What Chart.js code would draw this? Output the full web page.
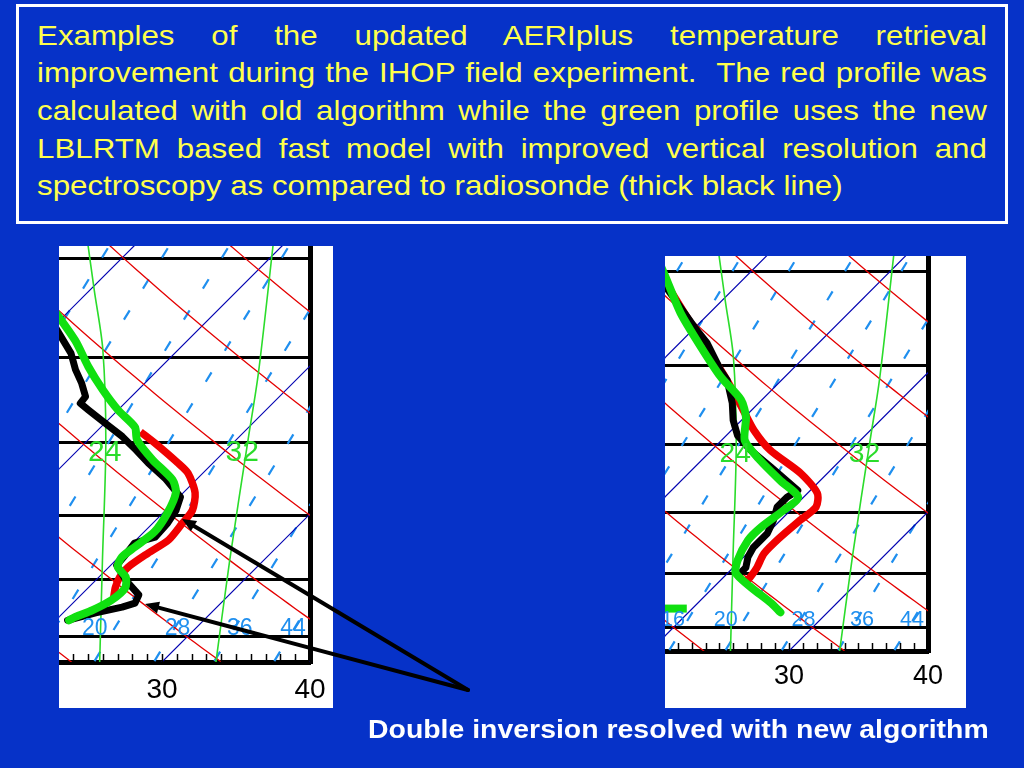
<!DOCTYPE html>
<html>
<head>
<meta charset="utf-8">
<script src="https://cdn.jsdelivr.net/npm/chart.js@4.4.1/dist/chart.umd.min.js"></script>
<style>
html,body{margin:0;padding:0;}
body{width:1024px;height:768px;background:#0632c8;position:relative;overflow:hidden;font-family:"Liberation Sans",Arial,sans-serif;}
#box{position:absolute;left:16px;top:4px;width:986px;height:214px;border:3px solid #fff;}
#caption{position:absolute;left:37px;top:16.5px;width:950px;}
#caption .inner{width:849.7px;transform:scaleX(1.118);transform-origin:0 0;color:#ffff4c;font-size:28px;line-height:37.7px;}
#caption .l{text-align:justify;text-align-last:justify;}
#caption .last{text-align:left;}
.panel{position:absolute;background:#fff;}
canvas{position:absolute;}
#note{position:absolute;left:368px;top:714px;color:#fff;font-weight:bold;font-size:25px;line-height:30px;white-space:nowrap;transform:scaleX(1.137);transform-origin:0 0;}
#arrows{position:absolute;left:0;top:0;}
</style>
</head>
<body>
<div id="box"></div>
<div id="caption"><div class="inner">
<div class="l">Examples of the updated AERIplus temperature retrieval</div>
<div class="l">improvement during the IHOP field experiment.&nbsp; The red profile was</div>
<div class="l">calculated with old algorithm while the green profile uses the new</div>
<div class="l">LBLRTM based fast model with improved vertical resolution and</div>
<div class="last">spectroscopy as compared to radiosonde (thick black line)</div>
</div></div>

<div class="panel" style="left:59px;top:246px;width:274px;height:462px;"></div>
<div class="panel" style="left:665px;top:256px;width:301px;height:452px;"></div>
<canvas id="leftChart" width="274" height="462" style="left:59px;top:246px;width:274px;height:462px;"></canvas>
<canvas id="rightChart" width="301" height="452" style="left:665px;top:256px;width:301px;height:452px;"></canvas>

<svg id="arrows" width="1024" height="768">
  <g stroke="#000" stroke-width="4" fill="#000" stroke-linecap="round">
    <line x1="468" y1="690" x2="194" y2="526"/>
    <line x1="468" y1="690" x2="158.5" y2="607.6"/>
  </g>
  <g fill="#000">
    <polygon points="182,519 197.1,521.05 190.9,531.35"/>
    <polygon points="145,604 160,601.8 157,613.4"/>
  </g>
</svg>

<div id="note">Double inversion resolved with new algorithm</div>

<script>
// ---- skew-T diagram geometry ----
const K = 36.9;        // skew factor (°C per ln-pressure unit, gives 45° isotherms)
const P_BASE = 1047;   // pressure at the bottom edge of both panels (hPa)

// ---- diagram reference lines ----
const isobarsHPa = [1000, 900, 800, 700, 600, 500];
const isothermsC = [-10, 0, 10, 20, 30, 40];
const dryAdiabatsC = [20, 30, 40, 50, 60, 70, 80, 90, 100];
const moist24T = [-3.6, 0.3, 4.9, 11.4, 19.1, 26.3];
const moist24P = [483, 530, 591, 701, 869, 1062];
const moist32T = [9.0, 17.0, 20.8, 27.7, 34.1];
const moist32P = [483, 617, 697, 869, 1062];
const mixLineBaseC = [1.1, 5.2, 9.2, 13.25, 17.3, 21.35, 25.4, 29.45, 33.5, 37.55];
const mixLineTilt = 0.613;
const xTickLabels = [30, 40];
const greenLabelText = ['24', '32'];
const greenLabelT = [12.0, 21.3];
const greenLabelP = [714, 714];
const blueLabelText = ['16', '20', '28', '36', '44'];
const blueLabelT = [19.4, 23.2, 28.8, 33.0, 36.6];
const blueLabelP = [985, 985, 985, 985, 985];

// ---- left case: profiles (temperature °C, pressure hPa) ----
const leftSondeT = [-0.9, 3.0, 4.4, 5.7, 6.9, 7.0, 8.0, 10.0, 12.1, 13.9, 15.6, 17.8, 20.1, 20.7, 21.0, 21.1, 20.1, 20.3, 20.4, 22.0, 23.9, 24.2, 23.6, 22.2, 20.8];
const leftSondeP = [557, 595, 613, 628, 644, 652, 660, 676, 693, 710, 727, 748, 774, 793, 812, 833, 842, 861, 877, 901, 926, 940, 947, 957, 970];
const leftNewT = [-2.2, 2.4, 5.1, 7.6, 10.0, 12.3, 13.3, 15.7, 18.4, 19.5, 20.3, 20.7, 20.4, 20.2, 20.6, 21.8, 22.5, 22.4, 21.8, 21.1, 20.9];
const leftNewP = [540, 581, 610, 636, 660, 681, 697, 723, 750, 768, 797, 825, 848, 864, 880, 896, 914, 935, 952, 964, 970];
const leftOldT = [13.0, 14.7, 17.6, 19.0, 20.8, 21.8, 22.0, 22.2, 21.7, 21.3, 21.4, 21.8, 22.4];
const leftOldP = [687, 701, 727, 741, 768, 793, 812, 837, 858, 880, 896, 913, 931];

// ---- right case ----
const rightSondeT = [-6.3, -0.1, 2.0, 4.9, 6.1, 8.1, 9.4, 10.8, 12.8, 15.5, 19.1, 18.8, 18.8, 19.5, 20.0, 20.0, 20.3, 20.9, 20.9];
const rightSondeP = [505, 557, 575, 606, 618, 646, 668, 688, 708, 732, 766, 776, 791, 812, 833, 856, 872, 890, 898];
const rightNewT = [-7.5, -5.8, -2.1, 1.8, 5.4, 8.5, 10.1, 11.7, 14.2, 17.1, 19.6, 19.5, 19.1, 19.1, 19.8, 20.6, 22.7, 25.3, 26.6];
const rightNewP = [489, 505, 542, 579, 614, 642, 664, 695, 722, 751, 776, 796, 823, 844, 878, 900, 925, 954, 971];
const rightOldT = [-5.7, 1.3, 5.8, 9.4, 11.6, 14.2, 18.1, 20.7, 21.6, 21.4, 21.2, 21.2, 21.7, 21.9, 21.9];
const rightOldP = [508, 571, 615, 655, 681, 708, 741, 770, 791, 812, 839, 866, 890, 907, 916];
const rightNewSfcT = [17.7, 19.6];
const rightNewSfcP = [964, 964];

const LABEL_FONT = '"Liberation Sans"';

function skewX(t, p) { return t + K * Math.log(P_BASE / p); }
function series(T, P) { return T.map((t, i) => ({ x: skewX(t, P[i]), y: P[i] })); }

function lineDs(data, color, width, order, extra) {
  return Object.assign({ data, borderColor: color, borderWidth: width, pointRadius: 0, fill: false,
    tension: 0, order, clip: 0, borderJoinStyle: 'round' }, extra || {});
}

function buildChart(id, o) {
  const pTopLimit = 470, pBotLimit = 1080;
  const ds = [];
  // profiles (lower order = drawn on top)
  ds.push(lineDs(series(o.newT, o.newP), '#10e010', 8, 0, { tension: 0.25, borderCapStyle: 'round' }));
  if (o.sfcT) ds.push(lineDs(series(o.sfcT, o.sfcP), '#10e010', 8, 0));
  ds.push(lineDs(series(o.sondeT, o.sondeP), '#000000', 7, 1, { borderCapStyle: 'round' }));
  ds.push(lineDs(series(o.oldT, o.oldP), '#f00000', 7.5, 2, { tension: 0.25 }));
  // moist adiabats
  ds.push(lineDs(series(moist24T, moist24P), '#2bdc2b', 1.6, 10, { tension: 0.3 }));
  ds.push(lineDs(series(moist32T, moist32P), '#2bdc2b', 1.6, 10, { tension: 0.3 }));
  // isotherms
  isothermsC.forEach(t => ds.push(lineDs([{ x: skewX(t, pBotLimit), y: pBotLimit }, { x: skewX(t, pTopLimit), y: pTopLimit }], '#0000b0', 1.2, 12)));
  // dry adiabats
  dryAdiabatsC.forEach(th => {
    const pts = [];
    for (let p = pBotLimit; p >= pTopLimit; p -= 10) {
      const t = (th + 273.15) * Math.pow(p / 1000, 0.2857) - 273.15;
      pts.push({ x: skewX(t, p), y: p });
    }
    ds.push(lineDs(pts, '#e40000', 1.3, 11));
  });
  // dashed light-blue lines
  const sc = o.pxPerDeg / 14.8;
  const yTop = K * Math.log(P_BASE / o.pTop);
  mixLineBaseC.forEach(x0 => {
    ds.push(lineDs([{ x: x0, y: P_BASE }, { x: x0 + mixLineTilt * (yTop + 1), y: P_BASE / Math.exp((yTop + 1) / K) }],
      '#1f8fef', 2.2, 13, { borderDash: [11 * sc, 25.4 * sc], borderDashOffset: -1.1 * sc }));
  });

  const labelPlugin = {
    id: 'labels',
    afterDatasetsDraw(chart) {
      const { ctx, chartArea: a, scales: { x, y } } = chart;
      ctx.save();
      ctx.beginPath(); ctx.rect(a.left, a.top, a.right - a.left, a.bottom - a.top); ctx.clip();
      ctx.textAlign = 'center'; ctx.textBaseline = 'middle';
      ctx.fillStyle = '#2bdc2b'; ctx.font = (30 * sc).toFixed(1) + 'px ' + LABEL_FONT;
      greenLabelText.forEach((s, i) => ctx.fillText(s, x.getPixelForValue(skewX(greenLabelT[i], greenLabelP[i])), y.getPixelForValue(greenLabelP[i])));
      ctx.fillStyle = '#1f8fef'; ctx.font = (23 * sc).toFixed(1) + 'px ' + LABEL_FONT;
      blueLabelText.forEach((s, i) => ctx.fillText(s, x.getPixelForValue(skewX(blueLabelT[i], blueLabelP[i])), y.getPixelForValue(blueLabelP[i])));
      ctx.restore();
    },
    afterDraw(chart) {
      const { ctx, chartArea: a, scales: { x } } = chart;
      ctx.save(); ctx.strokeStyle = '#000'; ctx.lineWidth = 1.5;
      x.ticks.forEach(t => {
        if (t.value >= 40) return;
        const px = Math.round(x.getPixelForValue(t.value)) + 0.5;
        ctx.beginPath(); ctx.moveTo(px, a.bottom); ctx.lineTo(px, a.bottom - 8); ctx.stroke();
      });
      ctx.restore();
    }
  };

  return new Chart(document.getElementById(id), {
    type: 'line',
    data: { datasets: ds },
    plugins: [labelPlugin],
    options: {
      responsive: false, animation: false, devicePixelRatio: 1,
      layout: { padding: { left: 0, top: 0, right: o.padRight, bottom: 0 } },
      plugins: { legend: { display: false }, tooltip: { enabled: false } },
      elements: { point: { radius: 0 } },
      scales: {
        x: {
          type: 'linear', min: o.xMin, max: 40,
          grid: { display: false },
          border: { display: true, color: '#000', width: 5 },
          afterBuildTicks: s => { const t = []; for (let v = Math.ceil(o.xMin); v <= 40; v++) t.push({ value: v }); s.ticks = t; },
          ticks: { autoSkip: false, maxRotation: 0, padding: o.labelPad, color: '#000',
            font: { family: 'Liberation Sans', size: o.labelSize },
            callback: v => xTickLabels.includes(v) ? String(v) : '' },
          afterFit: s => { s.height = o.axisH; s.paddingLeft = 0; s.paddingRight = 0; }
        },
        y: {
          type: 'logarithmic', position: 'right', reverse: true, min: o.pTop, max: P_BASE,
          grid: { color: '#000', lineWidth: 3, drawTicks: false },
          border: { display: true, color: '#000', width: 5 },
          ticks: { display: false },
          afterBuildTicks: s => { s.ticks = isobarsHPa.map(v => ({ value: v })); },
          afterFit: s => { s.width = 0; s.paddingTop = 0; s.paddingBottom = 0; }
        }
      }
    }
  });
}

buildChart('leftChart', {
  xMin: 23.04, pTop: 488.8, pxPerDeg: 14.8, padRight: 23, axisH: 46, labelPad: 3, labelSize: 28,
  sondeT: leftSondeT, sondeP: leftSondeP, newT: leftNewT, newP: leftNewP, oldT: leftOldT, oldP: leftOldP
});
buildChart('rightChart', {
  xMin: 21.08, pTop: 485.2, pxPerDeg: 13.9, padRight: 38, axisH: 57, labelPad: 1, labelSize: 27,
  sondeT: rightSondeT, sondeP: rightSondeP, newT: rightNewT, newP: rightNewP, oldT: rightOldT, oldP: rightOldP,
  sfcT: rightNewSfcT, sfcP: rightNewSfcP
});
</script>
</body>
</html>
